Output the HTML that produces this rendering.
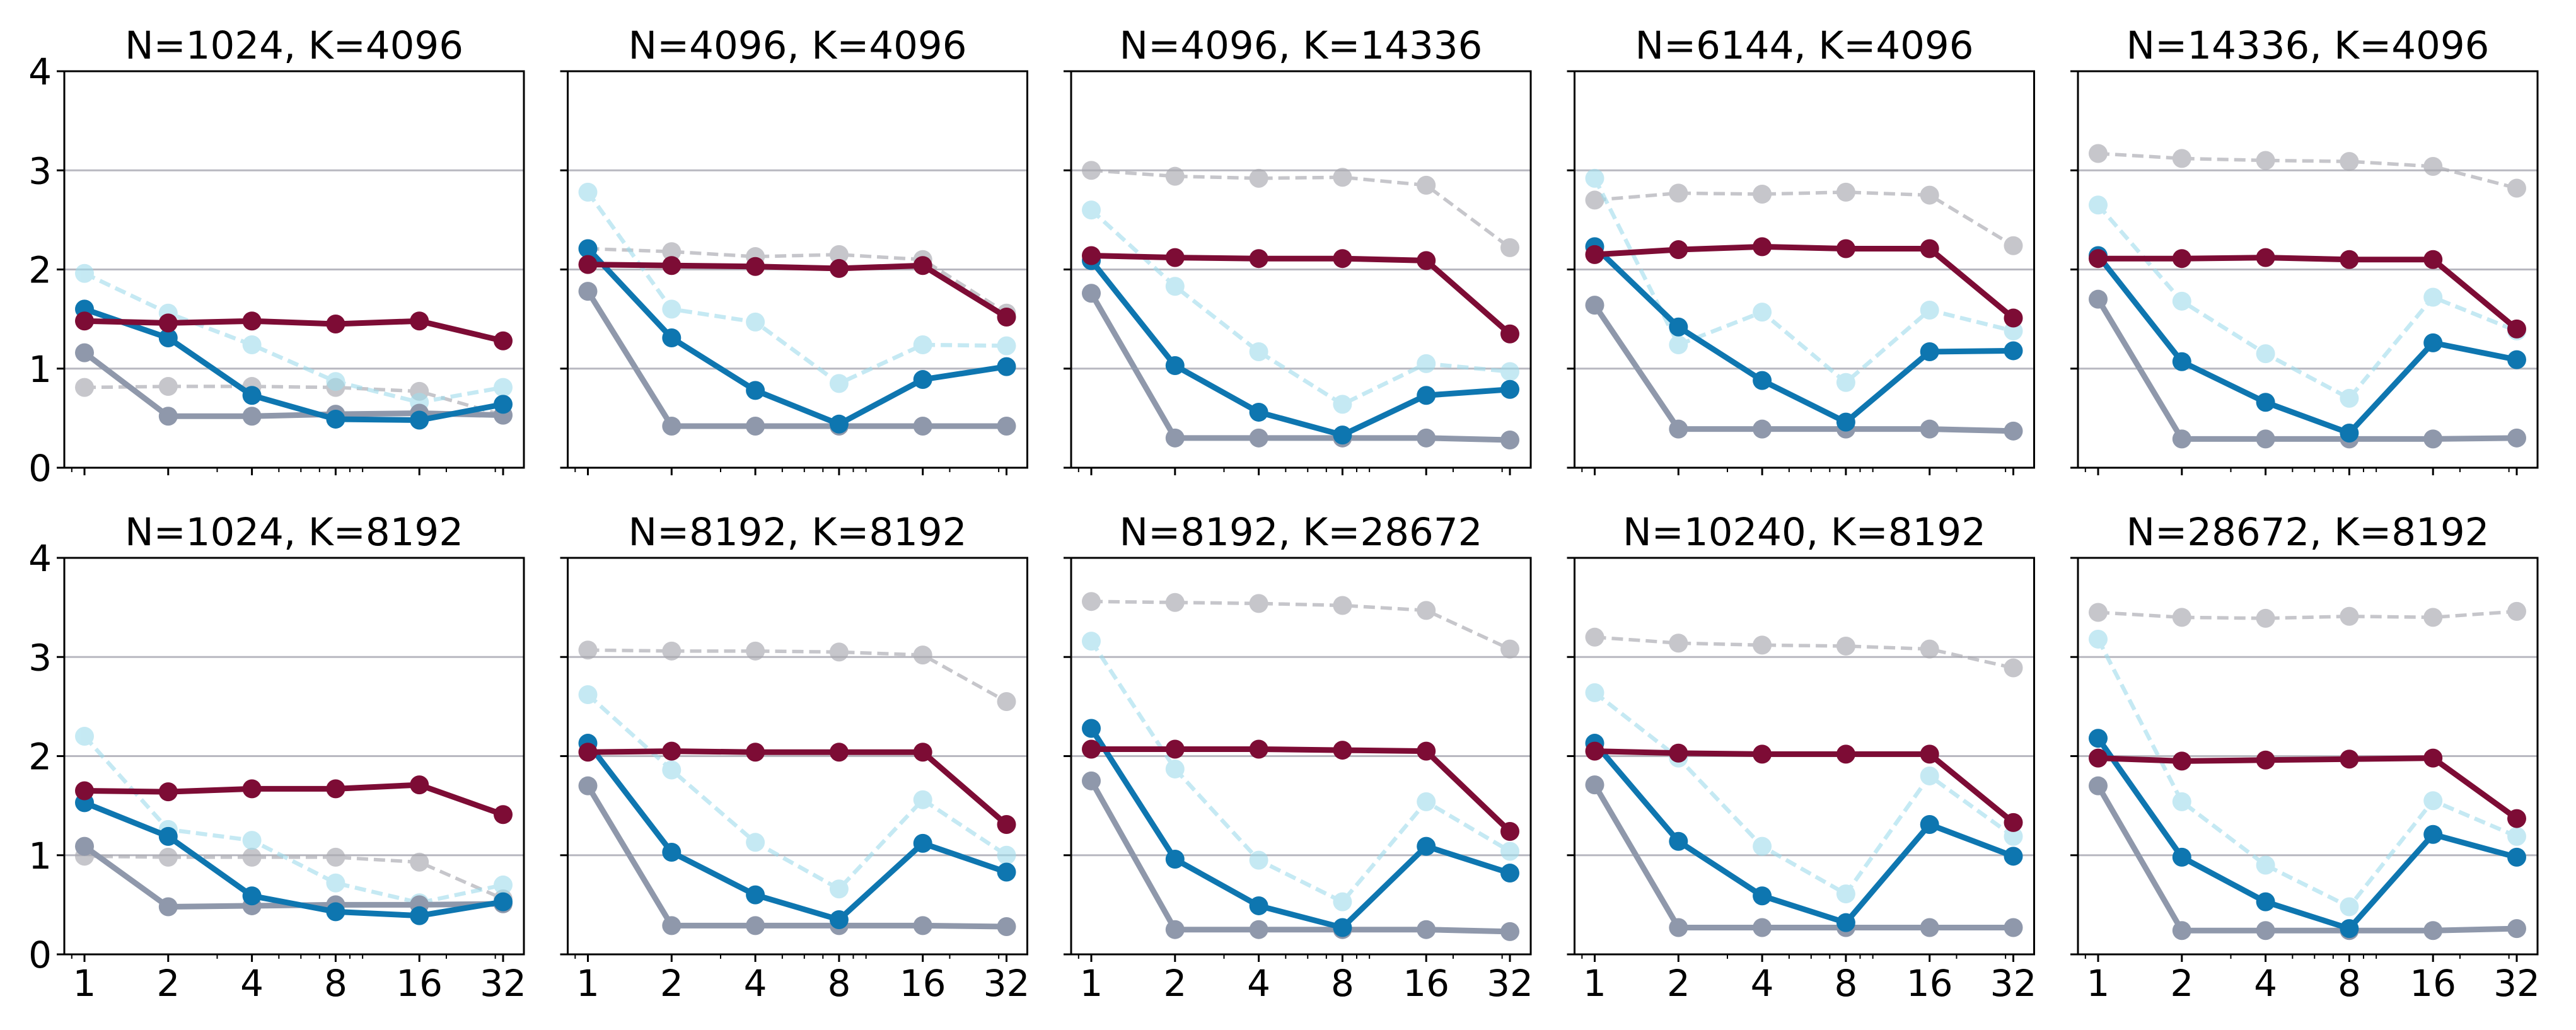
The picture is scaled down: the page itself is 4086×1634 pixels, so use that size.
<!DOCTYPE html>
<html><head><meta charset="utf-8">
<style>
html,body{margin:0;padding:0;background:#fff;}
svg{display:block;font-family:"DejaVu Sans","Liberation Sans",sans-serif;}
</style></head>
<body>
<svg id="chart" width="4086" height="1634" viewBox="0 0 4086 1634" xmlns="http://www.w3.org/2000/svg"></svg>
<script>
const xCategories = [1, 2, 4, 8, 16, 32];
const yTicks = [0, 1, 2, 3, 4];
const panelTitles = ["N=1024, K=4096","N=4096, K=4096","N=4096, K=14336","N=6144, K=4096","N=14336, K=4096",
  "N=1024, K=8192","N=8192, K=8192","N=8192, K=28672","N=10240, K=8192","N=28672, K=8192"];
const redSeries = [
  [1.48,1.46,1.48,1.45,1.48,1.28],[2.05,2.04,2.03,2.01,2.04,1.52],[2.14,2.12,2.11,2.11,2.09,1.35],
  [2.15,2.20,2.23,2.21,2.21,1.51],[2.11,2.11,2.12,2.10,2.10,1.40],[1.65,1.64,1.67,1.67,1.71,1.41],
  [2.04,2.05,2.04,2.04,2.04,1.31],[2.07,2.07,2.07,2.06,2.05,1.24],[2.05,2.03,2.02,2.02,2.02,1.33],
  [1.98,1.95,1.96,1.97,1.98,1.37]];
const blueSeries = [
  [1.60,1.31,0.73,0.49,0.48,0.64],[2.21,1.31,0.78,0.44,0.89,1.02],[2.09,1.03,0.56,0.33,0.73,0.79],
  [2.23,1.42,0.88,0.46,1.17,1.18],[2.14,1.07,0.66,0.35,1.26,1.09],[1.53,1.19,0.59,0.43,0.39,0.53],
  [2.13,1.03,0.60,0.35,1.12,0.83],[2.28,0.96,0.49,0.27,1.09,0.82],[2.13,1.14,0.59,0.32,1.31,0.99],
  [2.18,0.98,0.53,0.26,1.21,0.98]];
const graySeries = [
  [1.16,0.52,0.52,0.54,0.55,0.53],[1.78,0.42,0.42,0.42,0.42,0.42],[1.76,0.30,0.30,0.30,0.30,0.28],
  [1.64,0.39,0.39,0.39,0.39,0.37],[1.70,0.29,0.29,0.29,0.29,0.30],[1.09,0.48,0.49,0.50,0.50,0.51],
  [1.70,0.29,0.29,0.29,0.29,0.28],[1.75,0.25,0.25,0.25,0.25,0.23],[1.71,0.27,0.27,0.27,0.27,0.27],
  [1.70,0.24,0.24,0.24,0.24,0.26]];
const cyanDashedSeries = [
  [1.96,1.56,1.24,0.87,0.66,0.81],[2.78,1.60,1.47,0.85,1.24,1.23],[2.60,1.83,1.17,0.64,1.05,0.97],
  [2.92,1.24,1.57,0.86,1.59,1.38],[2.65,1.68,1.15,0.70,1.72,1.38],[2.20,1.26,1.15,0.72,0.52,0.70],
  [2.62,1.86,1.13,0.66,1.56,1.00],[3.16,1.87,0.95,0.53,1.54,1.04],[2.64,1.98,1.09,0.61,1.80,1.19],
  [3.18,1.54,0.90,0.48,1.55,1.19]];
const grayDashedSeries = [
  [0.81,0.82,0.82,0.81,0.77,0.53],[2.21,2.18,2.13,2.15,2.10,1.56],[3.00,2.94,2.92,2.93,2.85,2.22],
  [2.70,2.77,2.76,2.78,2.75,2.24],[3.17,3.12,3.10,3.09,3.04,2.82],[0.99,0.98,0.98,0.98,0.93,0.56],
  [3.07,3.06,3.06,3.05,3.02,2.55],[3.56,3.55,3.54,3.52,3.47,3.08],[3.20,3.14,3.12,3.11,3.08,2.89],
  [3.45,3.40,3.39,3.41,3.40,3.46]];

const NS = "http://www.w3.org/2000/svg";
const svg = document.getElementById('chart');
function mk(tag, attrs, parent){const e=document.createElementNS(NS,tag);for(const k in attrs)e.setAttribute(k,attrs[k]);(parent||svg).appendChild(e);return e;}

const colLefts=[102,900.5,1699,2497.5,3296], rowTops=[113,885];
const PW=729, PH=629;
for(let p=0;p<10;p++){
  const r=Math.floor(p/5), c=p%5;
  const L=colLefts[c], T=rowTops[r], B=T+PH, R=L+PW;
  const g=mk('g',{});
  
  
  const xs=v=>L+32+(Math.log2(v))*(664/5);
  const ys=v=>B-v*(PH/4);
  for(const t of yTicks){
    if(t>0&&t<4){const gl=mk('line',{x1:L,x2:R,y1:ys(t),y2:ys(t),stroke:'#b8b8c0','stroke-width':3},g);
      }
    mk('line',{x1:L-12,x2:L,y1:ys(t),y2:ys(t),stroke:'#000','stroke-width':3},g);
    if(c===0){const tl=mk('text',{x:L-20,y:ys(t)+21,'text-anchor':'end','font-size':58,fill:'#000'},g);
      tl.textContent=t;}
  }
  for(let v=0.9;v<=36;v+= (v<1?0.1:v<10?1:v<100?10:100)){
    const vv=Math.round(v*10)/10; if(vv<0.88||vv>35.5)continue;
    if(xs(vv)<L||xs(vv)>R)continue;
    mk('line',{x1:xs(vv),x2:xs(vv),y1:B,y2:B+7,stroke:'#000','stroke-width':2},g);
  }
  for(const v of xCategories){
    mk('line',{x1:xs(v),x2:xs(v),y1:B,y2:B+12,stroke:'#000','stroke-width':3},g);
    if(r===1){const tl=mk('text',{x:xs(v),y:B+66,'text-anchor':'middle','font-size':58,fill:'#000'},g);
      tl.textContent=v;}
  }
  const tt=mk('text',{x:L+PW/2,y:T-20,'text-anchor':'middle','font-size':61,fill:'#000'},g);
  tt.textContent=panelTitles[p];
  
  
  const series=[
    [grayDashedSeries[p],'#a9a9b0',0.65,5.5,'18 9','gray-dashed-series'],
    [cyanDashedSeries[p],'#9fdcec',0.6,6.5,'18 9','cyan-dashed-series'],
    [graySeries[p],'#8f98ab',1,9,'','gray-series'],
    [blueSeries[p],'#0e76b0',1,9,'','blue-series'],
    [redSeries[p],'#7d0c35',1,9,'','red-series']];
  for(const [vals,col,op,w,dash,name] of series){
    const sg=mk('g',{opacity:op},g);
    
    
    const pts=vals.map((v,i)=>xs(xCategories[i])+','+ys(v)).join(' ');
    const pl=mk('polyline',{points:pts,fill:'none',stroke:col,'stroke-width':w,'stroke-linejoin':'round'},sg);
    if(dash)pl.setAttribute('stroke-dasharray',dash);
    vals.forEach((v,i)=>{const m=mk('circle',{cx:xs(xCategories[i]),cy:ys(v),r:15,fill:col},sg);
      });
  }
  mk('rect',{x:L,y:T,width:PW,height:PH,fill:'none',stroke:'#000','stroke-width':3},g);
}
</script>
</body></html>
